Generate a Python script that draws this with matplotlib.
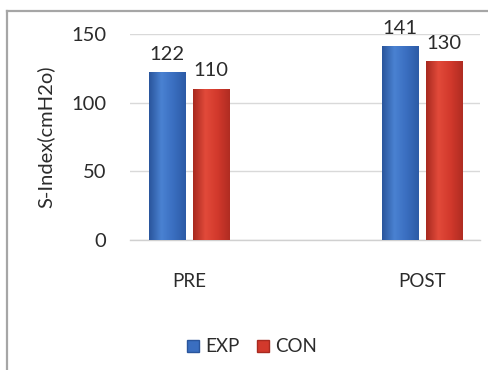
import numpy as np
import matplotlib
matplotlib.use("Agg")
import matplotlib.pyplot as plt
from matplotlib.patches import Patch
from matplotlib.colors import LinearSegmentedColormap

plt.rcParams['font.family'] = ['Lato', 'DejaVu Sans']

categories = ["PRE", "POST"]
series_names = ["EXP", "CON"]
exp_values = [122, 141]
con_values = [110, 130]
y_ticks = [0, 50, 100, 150]

text_color = '#2b2b2b'
colors = {"EXP": "#3a6ec0", "CON": "#d2392c"}
shades = {
    "EXP": ["#2a559c", "#4a82d2", "#3a6ec0", "#2c5ba6"],
    "CON": ["#a82a20", "#e24a3a", "#d2392c", "#b02c22"],
}

fig = plt.figure(figsize=(4.89, 3.70), dpi=100)
ax = fig.add_axes([130 / 489, 1 - 240 / 370, 350 / 489, 206 / 370])

x = np.arange(len(categories))
width = 0.155
offsets = [-0.094, 0.094]

for name, vals, off in zip(series_names, [exp_values, con_values], offsets):
    bars = ax.bar(x + off, vals, width, color=colors[name],
                  edgecolor=shades[name][0], linewidth=0.6, zorder=3)
    cmap = LinearSegmentedColormap.from_list(name, shades[name])
    grad = np.linspace(0, 1, 64).reshape(1, -1)
    for b, v in zip(bars, vals):
        x0, x1 = b.get_x(), b.get_x() + b.get_width()
        im = ax.imshow(grad, extent=(x0, x1, 0, v), aspect='auto',
                       cmap=cmap, zorder=3.5, interpolation='bicubic')
        im.set_clip_path(b)
        ax.annotate(f"{v}", (b.get_x() + b.get_width() / 2, v),
                    xytext=(0, 7), textcoords='offset points',
                    ha='center', va='bottom', fontsize=14.5, color=text_color)

ax.set_xlim(-0.253, 1.249)
ax.set_ylim(0, 150)
ax.set_yticks(y_ticks)
ax.set_xticks(x)
ax.set_xticklabels(categories)
ax.tick_params(axis='x', length=0, pad=24, labelsize=13.5, colors=text_color)
ax.tick_params(axis='y', length=0, pad=17, labelsize=14.5, colors=text_color)
ax.grid(axis='y', color='#d9d9d9', linewidth=1.0, zorder=0)
for side in ['top', 'right', 'left']:
    ax.spines[side].set_visible(False)
ax.spines['bottom'].set_color('#d0d0d0')
ax.spines['bottom'].set_linewidth(1.0)
ax.set_ylabel("S-Index(cmH2o)", fontsize=14.5, color=text_color, labelpad=12)

handles = [Patch(facecolor=colors[n], edgecolor=shades[n][0]) for n in series_names]
fig.legend(handles, series_names, loc='center', bbox_to_anchor=(252 / 489, 1 - 347 / 370),
           ncol=2, frameon=False, fontsize=13.5, handlelength=0.65, handleheight=0.65,
           handletextpad=0.35, columnspacing=0.9, labelcolor=text_color)

# outer chart border
fig.add_artist(plt.Line2D([7 / 489, 7 / 489], [0, 1 - 11 / 370], transform=fig.transFigure,
                          color='#a6a6a6', linewidth=1.6))
fig.add_artist(plt.Line2D([7 / 489, 1], [1 - 11 / 370, 1 - 11 / 370], transform=fig.transFigure,
                          color='#a6a6a6', linewidth=1.6))

fig.savefig("out.png", dpi=100)
